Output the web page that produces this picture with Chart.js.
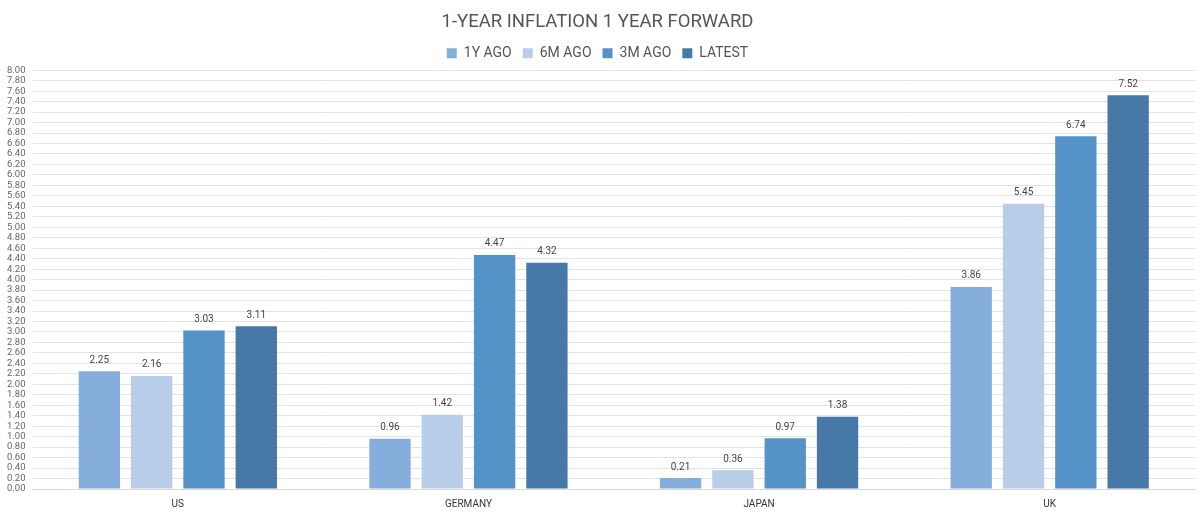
<!DOCTYPE html>
<html><head><meta charset="utf-8">
<script src="https://cdn.jsdelivr.net/npm/chart.js@4/dist/chart.umd.min.js"></script>
<style>html,body{margin:0;padding:0;background:#fff}#wrap{width:1200px;height:514px}</style>
</head><body><div id="wrap"><canvas id="c" width="1200" height="514"></canvas></div>
<script>
const categories = ["US", "GERMANY", "JAPAN", "UK"];
const seriesNames = ["1Y AGO", "6M AGO", "3M AGO", "LATEST"];
const y1Ago = [2.25, 0.96, 0.21, 3.86];
const m6Ago = [2.16, 1.42, 0.36, 5.45];
const m3Ago = [3.03, 4.47, 0.97, 6.74];
const latest = [3.11, 4.32, 1.38, 7.52];
const colors = ["#86AEDC", "#B8CDE8", "#5592C8", "#4679A8"];
const FONT = "Roboto, 'DejaVu Sans', sans-serif";

const labelPlugin = {
  id: 'valLabels',
  afterDatasetsDraw(chart) {
    const ctx = chart.ctx;
    ctx.save();
    ctx.font = "10px " + FONT;
    ctx.fillStyle = "#444";
    ctx.textAlign = "center";
    ctx.textBaseline = "bottom";
    chart.data.datasets.forEach((ds, i) => {
      chart.getDatasetMeta(i).data.forEach((bar, j) => {
        ctx.fillText(ds.data[j].toFixed(2), bar.x, bar.y - 6);
      });
    });
    ctx.restore();
  }
};

new Chart(document.getElementById('c'), {
  type: 'bar',
  data: {
    labels: categories,
    datasets: [y1Ago, m6Ago, m3Ago, latest].map((d, i) => ({
      label: seriesNames[i], data: d, backgroundColor: colors[i],
      categoryPercentage: 0.72, barPercentage: 0.79
    }))
  },
  options: {
    responsive: false, animation: false,
    layout: { padding: { left: 0, right: 5, top: 4, bottom: 3 } },
    plugins: {
      title: { display: true, text: "1-YEAR INFLATION 1 YEAR FORWARD", color: "#555",
        font: { family: FONT, size: 18.5, weight: 'normal' }, padding: { top: 7, bottom: 2 } },
      legend: { labels: { color: "#555", boxWidth: 10, boxHeight: 10, padding: 11,
        font: { family: FONT, size: 14 } } },
      tooltip: { enabled: false }
    },
    scales: {
      x: { grid: { display: false }, border: { color: "#d9d9d9" },
        ticks: { color: "#333", font: { family: FONT, size: 10 }, padding: 1 } },
      y: { min: 0, max: 8, border: { display: false },
        grid: { color: "#e3e3e3", drawTicks: false },
        ticks: { stepSize: 0.2, autoSkip: false, color: "#666", padding: 7,
          font: { family: FONT, size: 9.5 }, callback: v => v.toFixed(2) } }
    }
  },
  plugins: [labelPlugin]
});
</script></body></html>
